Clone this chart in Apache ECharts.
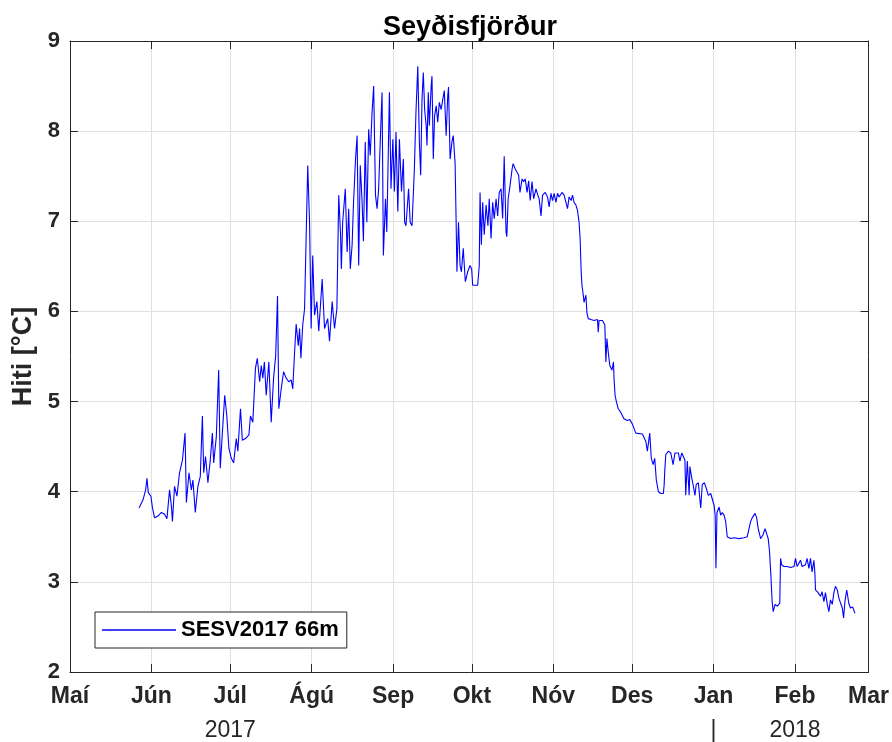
<!DOCTYPE html>
<html>
<head>
<meta charset="utf-8">
<script src="https://cdn.jsdelivr.net/npm/echarts@6/dist/echarts.min.js"></script>
<style>html,body{margin:0;padding:0;background:#fff}#c{width:892px;height:742px}</style>
</head>
<body>
<div id="c"></div>
<script>
// Days since 2017-05-01 (UTC) and temperature [°C]
const startDate = Date.UTC(2017, 4, 1);
const endDate = Date.UTC(2018, 2, 1);
const monthNames = ['Jan','Feb','Mar','Apr','Maí','Jún','Júl','Ágú','Sep','Okt','Nóv','Des'];
const yearLabels = { 6: '2017', 0: '|', 1: '2018' }; // month index -> secondary label
const seriesName = 'SESV2017 66m';
const titleText = 'Seyðisfjörður';
const yLabel = 'Hiti [°C]';

const daysJun = [26.3,27.8,28.8,29.3,29.8,30.8,31.4,32.2,33.5,34.8,36.0,36.9,37.9,38.6,39.0,39.8,40.7,41.7,42.8,43.8,44.3,45.3,46.2,46.8,47.7,48.7,49.6,50.4,50.9,51.6,52.5,53.4,54.2,54.7,55.7,56.6,57.2,58.0,58.9,59.7];
const tempJun = [3.82,3.91,4.02,4.15,3.99,3.95,3.82,3.71,3.73,3.77,3.75,3.70,4.02,3.84,3.67,4.06,3.95,4.21,4.35,4.65,3.88,4.21,4.02,4.13,3.77,4.06,4.17,4.84,4.21,4.39,4.10,4.35,4.65,4.32,4.61,5.35,4.26,4.65,5.07,4.84];

const daysJul = [60.5,61.4,62.3,63.3,63.9,64.9,65.6,66.8,68.1,68.7,69.6,70.6,71.3,72.2,72.8,73.4,74.0,74.7,75.7,76.6,77.5,78.3,79.0,79.5,80.4,81.3,82.3,83.3,84.2,84.8,85.5,86.1,86.9,87.4,87.9,88.6,89.3];
const tempJul = [4.48,4.37,4.32,4.59,4.45,4.92,4.57,4.59,4.63,4.84,4.77,5.37,5.48,5.22,5.40,5.26,5.44,5.07,5.44,4.77,5.26,5.51,6.17,4.92,5.14,5.33,5.26,5.22,5.24,5.14,5.55,5.86,5.62,5.81,5.48,5.85,6.03];

const daysAug = [90.5,91.2,91.8,92.4,93.1,94.0,94.7,96.0,96.9,98.1,98.8,99.8,100.7,101.6,102.3,103.0,103.3,103.8,104.8,105.5,106.1,106.7,107.4,107.9,108.7,109.3,109.9,110.5,111.2,111.7,112.4,113.0,113.7,114.3,115.0,115.6,116.3,116.9,117.5,118.4,118.8,119.3,120.1,120.6,121.6,122.2];
const tempAug = [7.62,6.99,5.81,6.62,5.96,6.11,5.78,6.36,5.81,5.92,5.67,6.11,5.81,6.03,7.29,6.85,6.47,6.99,7.36,6.66,7.14,6.47,6.74,7.18,7.69,7.95,6.51,7.62,7.22,6.78,7.88,6.99,8.02,7.73,8.21,8.50,7.29,7.14,7.36,8.13,8.43,6.62,7.25,6.88,8.43,7.36];

const daysSep = [122.9,123.5,124.1,124.8,125.4,126.2,126.9,127.4,127.9,128.9,129.5,130.2,131.1,131.7,132.4,133.0,133.5,134.0,134.5,135.0,135.6,135.9,136.4,136.8,137.5,137.8,138.3,138.8,139.4,140.0,140.6,141.3,141.9,142.5,143.2,143.8,144.1,144.7,145.4,145.9,146.6,147.0,147.3,147.9,148.5,149.0,149.7,150.5,151.4,152.3];
const tempSep = [7.91,7.33,7.99,7.11,7.91,7.33,7.69,6.99,6.95,7.36,6.99,6.95,7.58,8.21,8.72,7.88,7.51,8.35,8.65,8.24,8.06,7.84,8.43,8.06,8.50,8.61,7.69,8.17,8.28,8.10,8.32,8.24,8.35,8.45,7.95,8.39,8.49,7.69,7.88,7.95,7.65,6.99,6.44,6.99,6.51,6.44,6.70,6.33,6.44,6.51];

const daysOct = [152.9,153.3,153.9,155.2,155.8,156.1,156.6,157.1,157.7,158.4,159.1,159.6,160.3,160.9,161.5,162.2,162.8,163.4,164.1,164.7,165.3,166.0,166.3,166.8,167.5,168.3,168.7,169.5,170.2,170.8,171.3,172.1,172.7,173.3,174.0,174.6,175.2,175.9,176.5,177.4,178.1,178.6,179.3,179.9,180.9,181.8,182.4];
const tempOct = [6.47,6.29,6.27,6.29,6.51,7.32,6.74,7.21,6.85,7.18,6.95,7.25,6.81,7.21,7.03,7.25,7.06,7.32,7.36,7.03,7.72,6.88,6.83,7.25,7.39,7.58,7.64,7.58,7.60,7.51,7.32,7.47,7.44,7.47,7.32,7.45,7.23,7.44,7.25,7.36,7.29,7.25,7.06,7.29,7.32,7.27,7.16];

const daysNov = [183.1,183.7,184.3,185.0,185.6,186.2,187.3,188.1,188.8,189.4,190.0,190.8,191.3,191.9,192.6,193.2,193.8,194.2,194.6,194.9,195.4,195.7,196.4,196.8,197.3,198.3,199.5,200.8,201.1,201.4,202.7,203.6,204.0,204.4,204.9,205.5,206.3,206.9,207.1,207.5,208.0,208.7,209.7,210.3,210.9,212.2,213.1];
const tempNov = [7.31,7.23,7.31,7.21,7.31,7.27,7.32,7.29,7.27,7.14,7.27,7.23,7.29,7.21,7.18,7.12,6.99,6.81,6.44,6.29,6.18,6.10,6.18,5.98,5.92,5.91,5.90,5.91,5.77,5.90,5.90,5.85,5.44,5.70,5.55,5.40,5.35,5.44,5.26,5.07,5.00,4.92,4.88,4.90,4.81,4.79,4.80];

const daysDec = [214.1,215.4,217.9,219.2,219.8,220.7,221.3,222.0,222.6,223.2,224.0,224.9,225.9,226.2,226.4,226.8,227.8,228.7,229.6,230.3,231.0,231.6,232.2,232.9,233.5,234.1,234.4,235.0,235.7,236.0,236.7,237.2,237.9,238.4,239.2,240.1,240.7,241.5,242.2,243.0,243.9,244.5];
const tempDec = [4.75,4.65,4.64,4.56,4.45,4.65,4.37,4.30,4.37,4.13,4.00,3.98,3.98,4.08,4.22,4.41,4.45,4.43,4.30,4.43,4.45,4.43,4.34,4.43,4.39,4.35,3.96,4.34,3.96,4.28,4.15,4.08,3.96,4.08,4.10,3.82,4.08,4.10,4.04,3.96,3.98,3.96];

const daysJan = [245.2,245.6,245.9,246.3,247.1,247.7,248.3,249.0,249.6,250.2,251.5,252.8,254.7,256.6,257.8,258.5,259.1,259.7,260.8,261.4,262.0,262.9,263.8,264.6,265.1,265.8,266.3,266.8,267.3,267.7,268.4,269.2,270.2,270.5,270.9,271.8,273.0,274.3];
const tempJan = [3.85,3.74,3.15,3.77,3.83,3.74,3.77,3.74,3.67,3.50,3.48,3.49,3.48,3.49,3.50,3.59,3.67,3.71,3.76,3.71,3.59,3.48,3.52,3.59,3.59,3.48,3.34,3.08,2.78,2.67,2.75,2.73,2.76,3.26,3.19,3.17,3.17,3.16];

const daysFeb = [275.6,276.2,276.8,277.5,278.1,278.7,280.0,280.6,281.3,281.9,282.5,283.2,283.6,283.8,284.8,285.7,286.3,287.0,287.6,288.3,288.9,289.5,290.2,290.8,291.4,292.1,292.7,293.3,294.0,294.5,295.0,295.7,296.5,297.1,298.0,298.8];
const tempFeb = [3.17,3.26,3.17,3.19,3.24,3.17,3.19,3.26,3.15,3.26,3.11,3.24,3.08,2.91,2.88,2.84,2.89,2.78,2.88,2.75,2.67,2.80,2.75,2.88,2.95,2.91,2.82,2.80,2.71,2.60,2.78,2.91,2.76,2.71,2.72,2.65];

const yTicks = [2,3,4,5,6,7,8,9];

const allDays = [].concat(daysJun, daysJul, daysAug, daysSep, daysOct, daysNov, daysDec, daysJan, daysFeb);
const allTemps = [].concat(tempJun, tempJul, tempAug, tempSep, tempOct, tempNov, tempDec, tempJan, tempFeb);
const data = allDays.map((d, i) => [startDate + d * 86400000, allTemps[i]]);

const FONT = '"Liberation Sans", Arial, Helvetica, sans-serif';
const AX = '#262626';
const DAY = 86400000;

const chart = echarts.init(document.getElementById('c'), null, { renderer: 'canvas' });
const monthFmt = v => monthNames[new Date(v).getUTCMonth()];
const baseTime = {
  type: 'time', min: startDate, max: endDate,
  minInterval: 28 * DAY, maxInterval: 31 * DAY, splitNumber: 10
};
chart.setOption({
  useUTC: true,
  animation: false,
  color: ['#0000ff'],
  title: {
    text: titleText, left: 465, top: 9, textAlign: 'center',
    textStyle: { fontFamily: FONT, fontWeight: 'bold', fontSize: 27, color: '#000' }
  },
  grid: { left: 70, right: 22, top: 41, bottom: 69, containLabel: false },
  legend: {
    data: [{ name: seriesName, icon: 'rect' }],
    left: 95, top: 612, orient: 'horizontal',
    itemWidth: 74, itemHeight: 1.5,
    padding: [7, 8, 7, 7],
    borderColor: AX, borderWidth: 1, backgroundColor: '#fff', borderRadius: 0,
    textStyle: { fontFamily: FONT, fontWeight: 'bold', fontSize: 22, color: '#000', lineHeight: 22 }
  },
  xAxis: [
    Object.assign({}, baseTime, {
      position: 'bottom',
      axisLine: { show: true, onZero: false, lineStyle: { color: AX, width: 1 } },
      axisTick: { show: true, inside: true, length: 8, lineStyle: { color: AX } },
      axisLabel: { formatter: monthFmt, fontFamily: FONT, fontWeight: 'bold', fontSize: 23, color: AX, margin: 13, showMinLabel: true, showMaxLabel: true, hideOverlap: false },
      splitLine: { show: true, lineStyle: { color: '#dfdfdf', width: 1 } }
    }),
    Object.assign({}, baseTime, {
      position: 'top',
      axisLine: { show: true, onZero: false, lineStyle: { color: AX, width: 1 } },
      axisTick: { show: true, inside: true, length: 8, lineStyle: { color: AX } },
      axisLabel: { show: false },
      splitLine: { show: false }
    }),
    Object.assign({}, baseTime, {
      position: 'bottom', offset: 47,
      axisLine: { show: false },
      axisTick: { show: false },
      axisLabel: {
        formatter: v => yearLabels[new Date(v).getUTCMonth()] || '',
        fontFamily: FONT, fontWeight: 'normal', fontSize: 23, color: AX, margin: 0,
        showMinLabel: true, showMaxLabel: true, hideOverlap: false
      },
      splitLine: { show: false }
    })
  ],
  yAxis: [
    {
      type: 'value', min: yTicks[0], max: yTicks[yTicks.length - 1], interval: 1,
      position: 'left',
      name: yLabel, nameLocation: 'middle', nameGap: 28, nameRotate: 90,
      nameTextStyle: { fontFamily: FONT, fontWeight: 'bold', fontSize: 27, color: AX },
      axisLine: { show: true, onZero: false, lineStyle: { color: AX, width: 1 } },
      axisTick: { show: true, inside: true, length: 8, lineStyle: { color: AX } },
      axisLabel: { fontFamily: FONT, fontWeight: 'bold', fontSize: 22, color: AX, margin: 10 },
      splitLine: { show: true, lineStyle: { color: '#dfdfdf', width: 1 } }
    },
    {
      type: 'value', min: yTicks[0], max: yTicks[yTicks.length - 1], interval: 1,
      position: 'right',
      axisLine: { show: true, onZero: false, lineStyle: { color: AX, width: 1 } },
      axisTick: { show: true, inside: true, length: 8, lineStyle: { color: AX } },
      axisLabel: { show: false },
      splitLine: { show: false }
    }
  ],
  series: [{
    name: seriesName, type: 'line', xAxisIndex: 0, yAxisIndex: 0,
    data: data, showSymbol: false, symbol: 'none', smooth: false, sampling: null,
    lineStyle: { color: '#0000ff', width: 1.1 }, z: 3
  }]
});
</script>
</body>
</html>
